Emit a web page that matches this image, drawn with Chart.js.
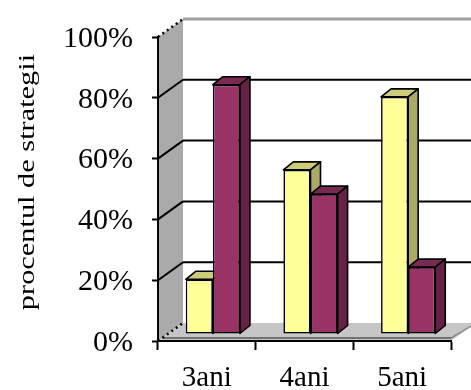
<!DOCTYPE html>
<html>
<head>
<meta charset="utf-8">
<script src="https://cdn.jsdelivr.net/npm/chart.js@4.4.1/dist/chart.umd.min.js"></script>
<style>
  html, body { margin: 0; padding: 0; background: #fff; }
  canvas { display: block; }
</style>
</head>
<body>
<canvas id="chart" width="471" height="390"></canvas>
<script>
// Share of strategies by age group
const categories = ['3ani', '4ani', '5ani'];
const seriesLight = [18, 54, 78];
const seriesDark = [82, 46, 22];
const yTickValues = [0, 20, 40, 60, 80, 100];
const yAxisTitle = 'procentul de strategii';

const SERIF = '"Liberation Serif", "Times New Roman", Times, serif';

// Oblique projection of the box: back wall offset, bar plane offset, bar depth
const WALL = { dx: 25, dy: -18 };
const BAR_SHIFT = { dx: 6, dy: -7 };
const BAR_DEPTH = { dx: 10, dy: -8 };

function poly(ctx, pts, fill, stroke, lw) {
  ctx.beginPath();
  ctx.moveTo(pts[0][0], pts[0][1]);
  for (let i = 1; i < pts.length; i++) ctx.lineTo(pts[i][0], pts[i][1]);
  ctx.closePath();
  if (fill) { ctx.fillStyle = fill; ctx.fill(); }
  if (stroke) { ctx.strokeStyle = stroke; ctx.lineWidth = lw || 1; ctx.lineJoin = 'round'; ctx.stroke(); }
}

function seg(ctx, x1, y1, x2, y2, color, lw, dash) {
  ctx.beginPath();
  ctx.setLineDash(dash || []);
  ctx.moveTo(x1, y1);
  ctx.lineTo(x2, y2);
  ctx.strokeStyle = color;
  ctx.lineWidth = lw;
  ctx.stroke();
  ctx.setLineDash([]);
}

// Side wall, floor, back wall and its gridlines
const boxPlugin = {
  id: 'box3d',
  beforeDraw(chart) {
    const { ctx, chartArea: a, scales: { y } } = chart;
    ctx.save();
    ctx.fillStyle = '#fff';
    ctx.fillRect(0, 0, chart.width, chart.height);
    const yTop = y.getPixelForValue(100);
    const yBot = y.getPixelForValue(0);
    const L = a.left, R = a.right, dx = WALL.dx, dy = WALL.dy;

    poly(ctx, [[L, yTop], [L + dx, yTop + dy], [L + dx, yBot + dy], [L, yBot]], '#aaaaaa');
    poly(ctx, [[L, yBot], [R, yBot], [R + dx, yBot + dy], [L + dx, yBot + dy]], '#c6c6c6');
    seg(ctx, R, yBot - 3, R + dx, yBot + dy, '#8a8a8a', 1.5);
    seg(ctx, L + 4, yBot - 3, R, yBot - 3, '#555', 1.5);

    yTickValues.forEach(v => {
      const py = y.getPixelForValue(v);
      if (v === 0) {
        seg(ctx, L, py, L + dx, py + dy, '#000', 2.5, [2, 3.5]);
      } else if (v === 100) {
        seg(ctx, L, py, L + dx, py + dy, '#000', 2.5, [2, 3.5]);
        seg(ctx, L + dx, py + dy, chart.width + 5, py + dy, '#a0a0a0', 3);
      } else {
        seg(ctx, L, py, L + dx, py + dy, '#000', 2);
        seg(ctx, L + dx, py + dy, chart.width + 5, py + dy, '#000', 2);
      }
    });
    ctx.restore();
  }
};

// Top and side faces of every bar, and the shift of the bar plane
const barPlugin = {
  id: 'bars3d',
  beforeDatasetsDraw(chart) {
    const ctx = chart.ctx;
    ctx.save();
    ctx.translate(BAR_SHIFT.dx, BAR_SHIFT.dy);
    chart.data.datasets.forEach((ds, i) => {
      const meta = chart.getDatasetMeta(i);
      meta.data.forEach(bar => {
        const { x, y, base, width } = bar.getProps(['x', 'y', 'base', 'width'], true);
        const l = x - width / 2, r = x + width / 2;
        const dx = BAR_DEPTH.dx, dy = BAR_DEPTH.dy;
        poly(ctx, [[l, y], [r, y], [r + dx, y + dy], [l + dx, y + dy]], ds.topColor, '#000', 1.6);
        poly(ctx, [[r, y], [r + dx, y + dy], [r + dx, base + dy], [r, base]], ds.sideColor, '#000', 1.6);
      });
    });
  },
  afterDatasetsDraw(chart) {
    chart.ctx.restore();
  }
};

// Rotated value-axis caption
const titlePlugin = {
  id: 'yCaption',
  afterDraw(chart) {
    const ctx = chart.ctx;
    ctx.save();
    ctx.translate(28, 182);
    ctx.rotate(-Math.PI / 2);
    ctx.scale(1.32, 1);
    ctx.font = '23px ' + SERIF;
    ctx.fillStyle = '#000';
    ctx.textAlign = 'center';
    ctx.textBaseline = 'middle';
    ctx.fillText(yAxisTitle, 0, 0);
    ctx.restore();
  }
};

new Chart(document.getElementById('chart'), {
  type: 'bar',
  data: {
    labels: categories,
    datasets: [
      {
        data: seriesLight,
        backgroundColor: '#ffff99',
        topColor: '#cccc7a',
        sideColor: '#aaaa66',
        borderColor: '#000',
        borderWidth: 1.6,
        borderSkipped: false,
        clip: false
      },
      {
        data: seriesDark,
        backgroundColor: '#993366',
        topColor: '#7a2952',
        sideColor: '#662244',
        borderColor: '#000',
        borderWidth: 1.6,
        borderSkipped: false,
        clip: false
      }
    ]
  },
  options: {
    responsive: false,
    animation: false,
    events: [],
    layout: { padding: { top: 34, right: 20, left: 0, bottom: 0 } },
    datasets: { bar: { categoryPercentage: 0.555, barPercentage: 1.0 } },
    plugins: { legend: { display: false }, tooltip: { enabled: false }, title: { display: false } },
    scales: {
      x: {
        grid: { offset: true, drawOnChartArea: false, tickLength: 9, tickColor: '#000', tickWidth: 2 },
        border: { color: '#000', width: 2 },
        ticks: { font: { family: SERIF, size: 29 }, color: '#000', padding: 11, maxRotation: 0 },
        afterFit(s) { s.height = 49; }
      },
      y: {
        min: 0,
        max: 100,
        afterBuildTicks(s) { s.ticks = yTickValues.map(v => ({ value: v })); },
        grid: { drawOnChartArea: false, tickLength: 6, tickColor: '#000', tickWidth: 2 },
        border: { color: '#000', width: 2 },
        ticks: { font: { family: SERIF, size: 30 }, color: '#000', padding: 19, labelOffset: 2, callback: v => v + '%' },
        afterFit(s) { s.width = 158; }
      }
    }
  },
  plugins: [boxPlugin, barPlugin, titlePlugin]
});
</script>
</body>
</html>
